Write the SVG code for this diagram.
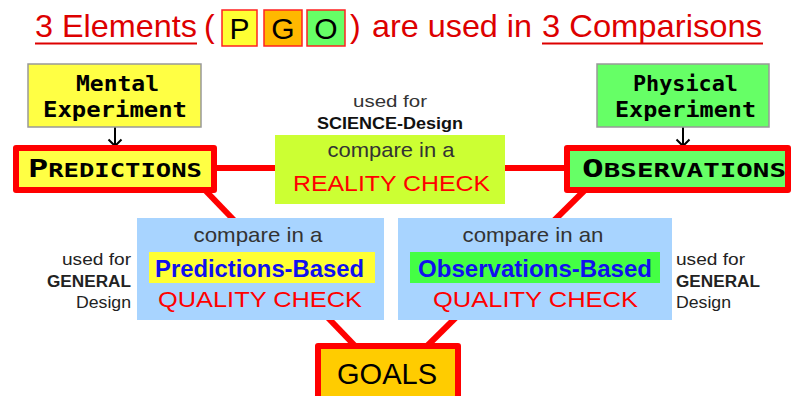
<svg xmlns="http://www.w3.org/2000/svg" width="792" height="396" viewBox="0 0 792 396">
<style>
.t{font-family:"Liberation Sans",Arial,sans-serif}
.title{font-size:32px;fill:#DD0000}
.pgo{font-size:30px;fill:#000;text-anchor:middle}
.mono{font-family:"DejaVu Sans Mono","Liberation Mono",monospace;font-weight:bold;fill:#000}
.conn{stroke:#FF0000;stroke-width:6;fill:none}
.big{stroke:#FF0000;stroke-width:6;stroke-linejoin:round}
.cmp{font-size:21px;fill:#333;text-anchor:middle}
.chk{font-size:22px;fill:#FF0000}
.hl{font-size:23px;font-weight:bold;fill:#1010EE}
.side{font-size:16px;fill:#222}
.arrow{stroke:#000;stroke-width:2;fill:none}
</style>
<rect width="792" height="396" fill="#fff"/>
<g id="title">
<text class="t title" x="35" y="37" textLength="162" lengthAdjust="spacingAndGlyphs">3 Elements</text>
<line x1="35" y1="43.5" x2="197" y2="43.5" stroke="#DD0000" stroke-width="2"/>
<text class="t title" x="204" y="37">(</text>
<rect x="222" y="10" width="35" height="36" fill="#FFFF33" stroke="#FF2222" stroke-width="1.5"/>
<text class="t pgo" x="239.5" y="39">P</text>
<rect x="264" y="10" width="38" height="36" fill="#FFB800" stroke="#FF2222" stroke-width="1.5"/>
<text class="t pgo" x="283" y="39">G</text>
<rect x="307" y="10" width="38" height="36" fill="#66FF66" stroke="#FF2222" stroke-width="1.5"/>
<text class="t pgo" x="326" y="39">O</text>
<text class="t title" x="350" y="37">)</text>
<text class="t title" x="372" y="37" textLength="160" lengthAdjust="spacingAndGlyphs">are used in</text>
<text class="t title" x="542" y="37" textLength="220" lengthAdjust="spacingAndGlyphs">3 Comparisons</text>
<line x1="542" y1="43.5" x2="763" y2="43.5" stroke="#DD0000" stroke-width="2"/>
</g>
<g id="connectors">
<line class="conn" x1="215" y1="168" x2="276" y2="168"/>
<line class="conn" x1="504" y1="168" x2="566" y2="168"/>
<line class="conn" x1="203" y1="188" x2="359" y2="350"/>
<line class="conn" x1="587" y1="188" x2="423" y2="350"/>
<line class="arrow" x1="115" y1="127" x2="115" y2="146"/>
<polyline class="arrow" points="108.5,139.5 115,146 121.5,139.5"/>
<line class="arrow" x1="683" y1="127" x2="683" y2="146"/>
<polyline class="arrow" points="676.5,139.5 683,146 689.5,139.5"/>
</g>
<g id="mental">
<rect x="28" y="64" width="173" height="63" fill="#FFFF44" stroke="#999" stroke-width="1.5"/>
<text class="mono" x="76" y="91" font-size="21" textLength="83" lengthAdjust="spacingAndGlyphs">Mental</text>
<text class="mono" x="43" y="117" font-size="21" textLength="144" lengthAdjust="spacingAndGlyphs">Experiment</text>
</g>
<g id="physical">
<rect x="597" y="64" width="172" height="63" fill="#66FF66" stroke="#999" stroke-width="1.5"/>
<text class="mono" x="633" y="91" font-size="21" textLength="105" lengthAdjust="spacingAndGlyphs">Physical</text>
<text class="mono" x="615" y="117" font-size="21" textLength="141" lengthAdjust="spacingAndGlyphs">Experiment</text>
</g>
<g id="predictions">
<rect class="big" x="16" y="148" width="198" height="42" fill="#FFFF44"/>
<text class="mono" x="28" y="177" textLength="174" lengthAdjust="spacingAndGlyphs"><tspan font-size="25">P</tspan><tspan font-size="19">REDICTIONS</tspan></text>
</g>
<g id="observations">
<rect class="big" x="567" y="148" width="221" height="42" fill="#66FF66"/>
<text class="mono" x="582" y="177" textLength="204" lengthAdjust="spacingAndGlyphs"><tspan font-size="25">O</tspan><tspan font-size="19">BSERVATIONS</tspan></text>
</g>
<g id="reality">
<text class="t" x="390" y="107" font-size="16" fill="#333" text-anchor="middle" textLength="74" lengthAdjust="spacingAndGlyphs">used for</text>
<text class="t" x="390" y="129" font-size="16" font-weight="bold" fill="#111" text-anchor="middle" textLength="146" lengthAdjust="spacingAndGlyphs">SCIENCE-Design</text>
<rect x="275" y="135" width="230" height="69" fill="#CCFF33"/>
<text class="t cmp" x="391" y="157" textLength="127" lengthAdjust="spacingAndGlyphs">compare in a</text>
<text class="t chk" x="293" y="191" textLength="197" lengthAdjust="spacingAndGlyphs">REALITY CHECK</text>
</g>
<g id="pred-quality">
<rect x="137" y="218" width="247" height="102" fill="#A8D4FF"/>
<text class="t cmp" x="258" y="242" textLength="129" lengthAdjust="spacingAndGlyphs">compare in a</text>
<rect x="149" y="252" width="226" height="31" fill="#FFFF33"/>
<text class="t hl" x="155" y="277" textLength="209" lengthAdjust="spacingAndGlyphs">Predictions-Based</text>
<text class="t chk" x="158" y="307" textLength="204" lengthAdjust="spacingAndGlyphs">QUALITY CHECK</text>
<text class="t side" x="131" y="265" text-anchor="end" fill="#333" textLength="69" lengthAdjust="spacingAndGlyphs">used for</text>
<text class="t side" x="131" y="287" text-anchor="end" font-weight="bold" textLength="84" lengthAdjust="spacingAndGlyphs">GENERAL</text>
<text class="t side" x="131" y="308" text-anchor="end" textLength="55" lengthAdjust="spacingAndGlyphs">Design</text>
</g>
<g id="obs-quality">
<rect x="398" y="218" width="274" height="102" fill="#A8D4FF"/>
<text class="t cmp" x="533" y="242" textLength="141" lengthAdjust="spacingAndGlyphs">compare in an</text>
<rect x="410" y="252" width="250" height="31" fill="#44FF44"/>
<text class="t hl" x="418" y="277" textLength="234" lengthAdjust="spacingAndGlyphs">Observations-Based</text>
<text class="t chk" x="433" y="307" textLength="205" lengthAdjust="spacingAndGlyphs">QUALITY CHECK</text>
<text class="t side" x="676" y="265" fill="#333" textLength="69" lengthAdjust="spacingAndGlyphs">used for</text>
<text class="t side" x="676" y="287" font-weight="bold" textLength="84" lengthAdjust="spacingAndGlyphs">GENERAL</text>
<text class="t side" x="676" y="308" textLength="55" lengthAdjust="spacingAndGlyphs">Design</text>
</g>
<g id="goals">
<rect class="big" x="318" y="346" width="140" height="64" fill="#FFCC00"/>
<text class="t" x="387" y="384" font-size="29" fill="#000" text-anchor="middle" textLength="100" lengthAdjust="spacingAndGlyphs">GOALS</text>
</g>
</svg>
